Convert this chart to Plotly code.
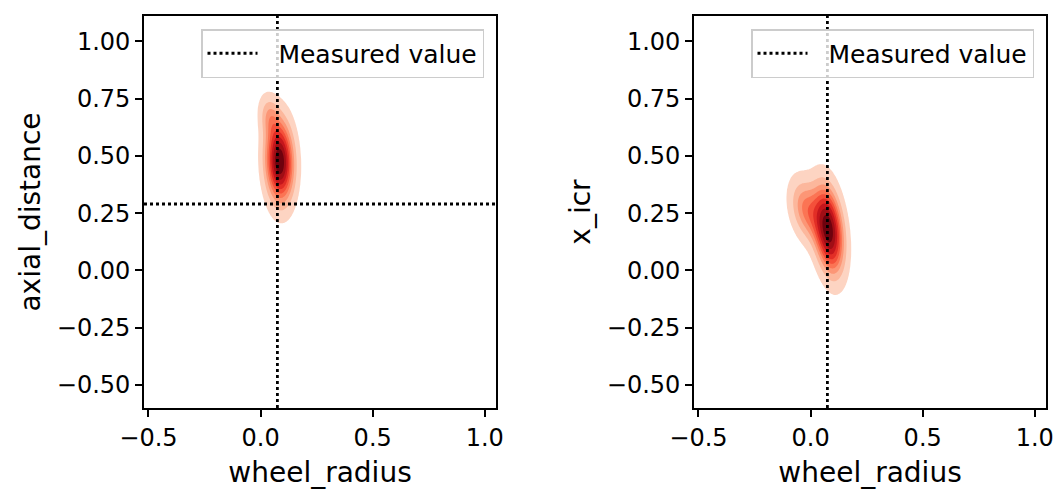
import numpy as np
import plotly.graph_objects as go
from plotly.subplots import make_subplots

# ---------------- data ----------------
x_label = "wheel_radius"
y_labels = ["axial_distance", "x_icr"]
legend_label = "Measured value"

measured_wheel_radius = 0.075
measured_axial_distance = 0.29

x_tick_vals = [-0.5, 0.0, 0.5, 1.0]
x_tick_text = ["−0.5", "0.0", "0.5", "1.0"]
y_tick_vals = [-0.5, -0.25, 0.0, 0.25, 0.5, 0.75, 1.0]
y_tick_text = ["−0.50", "−0.25", "0.00", "0.25", "0.50", "0.75", "1.00"]

x_range = [-0.52, 1.05]
y_range = [-0.60, 1.11]

# posterior density, described as a small gaussian mixture per panel
axial_comp_x = [0.085, 0.040]
axial_comp_y = [0.475, 0.670]
axial_comp_sx = [0.040, 0.030]
axial_comp_sy = [0.112, 0.060]
axial_comp_rho = [-0.08, -0.20]
axial_comp_w = [0.92, 0.08]

icr_comp_x = [0.080, -0.020]
icr_comp_y = [0.178, 0.265]
icr_comp_sx = [0.042, 0.045]
icr_comp_sy = [0.118, 0.085]
icr_comp_rho = [-0.30, -0.30]
icr_comp_w = [0.78, 0.22]

kde_thresh = 0.05
kde_levels = 10

# ---------------- style ----------------
FONT = "DejaVu Sans"
band_colors = [
    "rgb(253,212,194)", "rgb(252,183,156)", "rgb(252,150,118)",
    "rgb(251,116,84)", "rgb(244,80,58)", "rgb(226,46,38)",
    "rgb(196,22,28)", "rgb(160,14,21)", "rgb(110,2,14)",
]


def mixture_density(gx, gy, mx, my, sx, sy, rho, w):
    X, Y = np.meshgrid(gx, gy)
    Z = np.zeros_like(X)
    for a, b, c, d, r, wt in zip(mx, my, sx, sy, rho, w):
        dx = (X - a) / c
        dy = (Y - b) / d
        q = (dx ** 2 - 2 * r * dx * dy + dy ** 2) / (1 - r ** 2)
        Z += wt * np.exp(-q / 2) / (2 * np.pi * c * d * np.sqrt(1 - r ** 2))
    return Z


def iso_levels(Z, props):
    vals = np.sort(Z.ravel())[::-1]
    cum = np.cumsum(vals) / vals.sum()
    idx = np.searchsorted(cum, 1 - props)
    return np.take(vals, idx, mode="clip")


def band_grid(gx, gy, comps):
    Z = mixture_density(gx, gy, *comps)
    props = np.linspace(kde_thresh, 1, kde_levels)
    lv = iso_levels(Z, props)
    xp = np.concatenate([[0.0], lv])
    fp = np.arange(-1, kde_levels)
    return np.round(np.interp(Z, xp, fp), 3)


stepped = [[0.0, "rgba(255,255,255,0)"], [0.1, "rgba(255,255,255,0)"]]
for i, c in enumerate(band_colors):
    stepped += [[round(0.1 * (i + 1), 4), c], [round(0.1 * (i + 2), 4), c]]

gx = np.linspace(-0.35, 0.5, 230)
gy = np.linspace(-0.45, 1.05, 320)

panels = [
    (axial_comp_x, axial_comp_y, axial_comp_sx, axial_comp_sy, axial_comp_rho, axial_comp_w),
    (icr_comp_x, icr_comp_y, icr_comp_sx, icr_comp_sy, icr_comp_rho, icr_comp_w),
]

W, H = 1064, 489
ml, mr, mt, mb = 144, 18, 16, 81
pw = W - ml - mr
ph = H - mt - mb

fig = make_subplots(rows=1, cols=2)
fig.update_layout(
    xaxis=dict(domain=[0, (496 - ml) / pw]),
    xaxis2=dict(domain=[(694 - ml) / pw, 1]),
)

line_style = dict(color="black", dash="dot", width=2.8)

for k, comps in enumerate(panels):
    col = k + 1
    zt = band_grid(gx, gy, comps)
    fig.add_trace(
        go.Contour(
            x=gx, y=gy, z=zt, autocontour=False,
            contours=dict(start=0, end=kde_levels - 1, size=1,
                          coloring="fill", showlines=False),
            line=dict(width=0), colorscale=stepped, showscale=False,
            hoverinfo="skip",
        ),
        row=1, col=col,
    )
    leg = "legend" if k == 0 else "legend2"
    fig.add_trace(
        go.Scatter(
            x=[measured_wheel_radius, measured_wheel_radius], y=y_range,
            mode="lines", line=line_style,
            name="\u00a0\u00a0" + legend_label,
            showlegend=True, legend=leg, hoverinfo="skip",
        ),
        row=1, col=col,
    )
    if k == 0:
        fig.add_trace(
            go.Scatter(
                x=x_range, y=[measured_axial_distance, measured_axial_distance],
                mode="lines", line=line_style, showlegend=False, hoverinfo="skip",
            ),
            row=1, col=col,
        )

axis_common = dict(
    showline=True, linecolor="black", linewidth=1.6, mirror=True,
    ticks="outside", ticklen=7, tickwidth=1.6, tickcolor="black",
    showgrid=False, zeroline=False, automargin=False,
    tickfont=dict(family=FONT, size=24, color="black"),
)

for col in (1, 2):
    fig.update_xaxes(
        range=x_range, tickvals=x_tick_vals, ticktext=x_tick_text,
        title=dict(text=x_label, font=dict(family=FONT, size=28, color="black"), standoff=14),
        row=1, col=col, **axis_common,
    )
    fig.update_yaxes(
        range=y_range, tickvals=y_tick_vals, ticktext=y_tick_text,
        title=dict(text=y_labels[col - 1], font=dict(family=FONT, size=28, color="black"), standoff=8),
        row=1, col=col, **axis_common,
    )

legend_common = dict(
    xanchor="right", yanchor="top", itemwidth=50,
    bgcolor="rgba(255,255,255,0.8)", bordercolor="#cccccc", borderwidth=1.5,
    font=dict(family=FONT, size=25, color="black"),
)
fig.update_layout(
    width=W, height=H,
    margin=dict(l=ml, r=mr, t=mt, b=mb),
    plot_bgcolor="white", paper_bgcolor="white",
    font=dict(family=FONT, color="black"),
    legend=dict(x=(484 - ml) / pw, y=1 - (29 - mt) / ph, **legend_common),
    legend2=dict(x=(1034 - ml) / pw, y=1 - (29 - mt) / ph, **legend_common),
)

fig.write_html("out.html")
